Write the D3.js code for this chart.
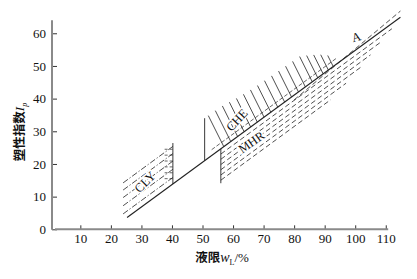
<!DOCTYPE html>
<html>
<head>
<meta charset="utf-8">
<script src="https://cdn.jsdelivr.net/npm/d3@7"></script>
<style>
  body { margin: 0; background: #fff; }
  text { fill: #111; }
</style>
</head>
<body>
<svg id="chart" width="417" height="279"></svg>
<script>
// axis ticks
const xTicks = [10, 20, 30, 40, 50, 60, 70, 80, 90, 100, 110];
const yTicks = [0, 10, 20, 30, 40, 50, 60];

// A-line ends (wL, Ip)
const aLine = [[25.3, 3.6], [114.8, 64.9]];

// CLY zone: dash-dot lines above the A-line
const clyRange = [24, 40.3];
const clyOffsets = [2, 4.5, 7, 9.3, 11.5];
const clyWallTop = 26.4;
const clyHatchIp = [15.5, 17.3, 19.1, 20.9, 22.7, 24.5];

// CHE zone: wedge of hatching above the A-line
const cheWallW = 50.7;
const cheTopW = [50.7, 56, 62, 68, 75, 82, 88, 93];
const cheTopIp = [34, 37.5, 40.5, 44, 48.5, 53, 53.5, 53];
const cheStep = 2.3;
const cheInner = [53, 94, 1.8]; // from, to, offset

// MHR zone: dashed lines below the A-line
const mhrWall = [56, 14.1];
const mhrOffsets = [-1.6, -3.2, -4.8, -6.4, -8, -9.6];
const mhrEnds = [112, 108.5, 105, 102, 97, 92];
const mhrCross = [[80, 39.6], [114.8, 66.8]];

const labels = [
  { t: "CLY", w: 31.1, ip: 14.5, rot: -45 },
  { t: "CHE", w: 61.2, ip: 33.5, rot: -47 },
  { t: "MHR", w: 66, ip: 26.7, rot: -35 },
  { t: "A", w: 100.3, ip: 58.9, rot: -15 }
];

const svg = d3.select("#chart");
const x = d3.scaleLinear().domain([0, 110.8]).range([49.8, 388.2]);
const y = d3.scaleLinear().domain([0, 64]).range([229.3, 20.2]);
const serif = "'Liberation Serif', 'Times New Roman', serif";
const cjk = "'Noto Sans CJK SC', sans-serif";

const aIp = w => aLine[0][1] + (w - aLine[0][0]) * (aLine[1][1] - aLine[0][1]) / (aLine[1][0] - aLine[0][0]);
const line = d3.line().x(d => x(d[0])).y(d => y(d[1]));

// axes
const xAxis = svg.append("g")
  .attr("transform", `translate(0,${y(0)})`)
  .call(d3.axisBottom(x).tickValues(xTicks).tickSizeInner(-4).tickSizeOuter(0).tickPadding(4.5));
const yAxis = svg.append("g")
  .attr("transform", "translate(52,0)")
  .call(d3.axisLeft(y).tickValues(yTicks).tickSizeInner(-5).tickSizeOuter(0).tickPadding(6));
[xAxis, yAxis].forEach(g => {
  g.select(".domain").remove();
  g.selectAll(".tick line").attr("stroke", "#333").attr("stroke-width", 1);
  g.selectAll(".tick text").attr("font-family", serif).attr("font-size", 13).attr("fill", "#111");
});
svg.append("line").attr("x1", 52).attr("x2", 52).attr("y1", y(64)).attr("y2", y(0) + 0.5)
  .attr("stroke", "#8a8a8a").attr("stroke-width", 2);
svg.append("line").attr("x1", 55).attr("x2", x(110.8)).attr("y1", y(0)).attr("y2", y(0))
  .attr("stroke", "#8a8a8a").attr("stroke-width", 2);

const marks = svg.append("g").attr("fill", "none").attr("stroke", "#222");

// A-line
marks.append("path").attr("d", line(aLine)).attr("stroke-width", 1.1);

// CLY
marks.append("path").attr("d", line([[clyRange[1], aIp(clyRange[1])], [clyRange[1], clyWallTop]])).attr("stroke-width", 0.9);
clyOffsets.forEach(o => {
  marks.append("path")
    .attr("d", line(clyRange.map(w => [w, aIp(w) + o])))
    .attr("stroke-width", 0.8).attr("stroke-dasharray", "6,2,1.2,2");
});
clyHatchIp.forEach(ip => {
  marks.append("path").attr("d", line([[37.6, ip], [clyRange[1], ip]]))
    .attr("stroke-width", 0.7).attr("stroke-dasharray", "3,2");
});

// CHE
marks.append("path").attr("d", line([[cheWallW, aIp(cheWallW)], [cheWallW, cheTopIp[0]]])).attr("stroke-width", 0.9);
const cheTop = d3.scaleLinear().domain(cheTopW).range(cheTopIp);
const ax0 = x(aLine[0][0]), ay0 = y(aLine[0][1]);
const m = (y(aLine[1][1]) - ay0) / (x(aLine[1][0]) - ax0);
const slant = 0.5;
d3.range(cheTopW[0] + 1.2, cheTopW[cheTopW.length - 1] + 0.01, cheStep).forEach(w => {
  const px = x(w), py = y(cheTop(w));
  const t = (ay0 + m * (px - ax0) - py) / (1 - m * slant);
  marks.append("line").attr("x1", px).attr("y1", py)
    .attr("x2", px + slant * t).attr("y2", py + t).attr("stroke-width", 0.8);
});
marks.append("path")
  .attr("d", line([cheInner[0], cheInner[1]].map(w => [w, aIp(w) + cheInner[2]])))
  .attr("stroke-width", 0.7).attr("stroke-dasharray", "4,2");

// MHR
marks.append("path").attr("d", line([[mhrWall[0], aIp(mhrWall[0])], mhrWall])).attr("stroke-width", 0.9);
mhrOffsets.forEach((o, i) => {
  marks.append("path")
    .attr("d", line([mhrWall[0], mhrEnds[i]].map(w => [w, aIp(w) + o])))
    .attr("stroke-width", 0.8).attr("stroke-dasharray", "5,3");
});
marks.append("path").attr("d", line(mhrCross))
  .attr("stroke-width", 0.8).attr("stroke-dasharray", "5,3");

// zone labels
labels.forEach(d => {
  svg.append("text")
    .attr("transform", `translate(${x(d.w)},${y(d.ip)}) rotate(${d.rot})`)
    .attr("text-anchor", "middle").attr("dy", "0.35em")
    .attr("font-family", serif).attr("font-size", 12.5)
    .attr("stroke", "#fff").attr("stroke-width", 3).attr("paint-order", "stroke")
    .text(d.t);
});

// axis titles
const yt = svg.append("text")
  .attr("transform", "translate(24,132) rotate(-90)")
  .attr("text-anchor", "middle");
yt.append("tspan").attr("font-family", cjk).attr("font-weight", "bold").attr("font-size", 12.5).text("塑性指数");
yt.append("tspan").attr("font-family", serif).attr("font-style", "italic").attr("font-size", 13).text("I");
yt.append("tspan").attr("font-family", serif).attr("font-style", "italic").attr("font-size", 8).attr("dy", 3).text("p");

const xt = svg.append("text")
  .attr("x", 222).attr("y", 262)
  .attr("text-anchor", "middle");
xt.append("tspan").attr("font-family", cjk).attr("font-weight", "bold").attr("font-size", 12.5).text("液限");
xt.append("tspan").attr("font-family", serif).attr("font-style", "italic").attr("font-size", 14).text("w");
xt.append("tspan").attr("font-family", serif).attr("font-size", 8).attr("dy", 3).text("L");
xt.append("tspan").attr("font-family", serif).attr("font-size", 13).attr("dy", -3).text("/%");
</script>
</body>
</html>
